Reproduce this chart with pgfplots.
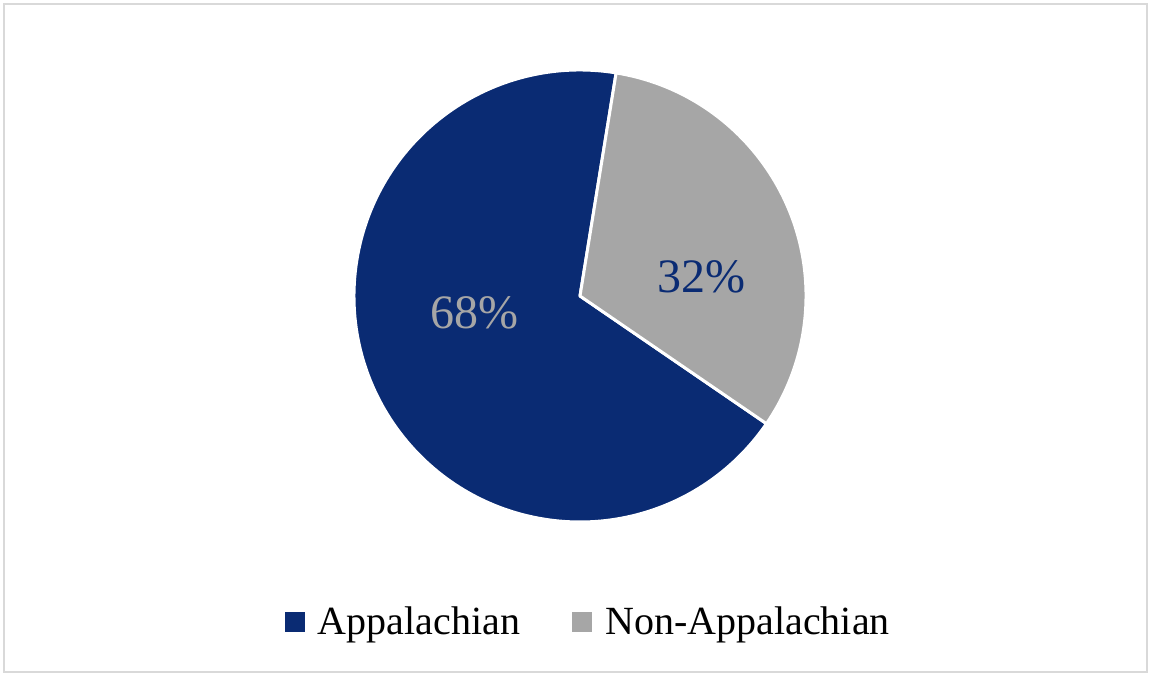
\documentclass[border=0pt]{standalone}
\usepackage{pgfplots}
\pgfplotsset{compat=1.18}
\usepackage{pgfplotstable}
\usepackage{fontspec}
\setmainfont{Liberation Serif}

\definecolor{navy}{HTML}{0A2B73}
\definecolor{slicegray}{HTML}{A6A6A6}
\definecolor{framegray}{HTML}{D9D9D9}

% share of respondents
\pgfplotstableread{
label value
Appalachian 68
Non-Appalachian 32
}\piedata

\begin{document}
\begin{tikzpicture}
\pgfplotstablegetelem{0}{value}\of\piedata \let\va\pgfplotsretval
\pgfplotstablegetelem{1}{value}\of\piedata \let\vb\pgfplotsretval
\def\rad{226}
\pgfmathsetmacro{\startang}{80.8}
\pgfmathsetmacro{\endA}{\startang+3.6*\va}
\pgfmathsetmacro{\endB}{\startang-3.6*\vb}
\pgfmathsetmacro{\sx}{580+\rad*cos(\startang)}
\pgfmathsetmacro{\sy}{-296+\rad*sin(\startang)}
\begin{axis}[
    width=1151pt, height=675pt, scale only axis,
    xmin=0, xmax=1151, ymin=-675, ymax=0,
    hide axis, clip=false,
    legend columns=2,
    legend style={at={(0.511,0.079)}, anchor=center, draw=none, fill=none,
        font=\fontsize{40}{46}\selectfont,
        /tikz/every even column/.append style={column sep=50pt},
        /tikz/every odd column/.append style={column sep=12pt}},
    legend image code/.code={\fill[#1] (0pt,-9.5pt) rectangle (19pt,9.5pt);},
]
\path (axis cs:0,0) rectangle (axis cs:1151,-675);
\draw[framegray, line width=2pt] (axis cs:4,-4) rectangle (axis cs:1147,-672);

% slices
\filldraw[fill=navy, draw=white, line width=3pt, line join=round]
    (axis cs:580,-296) -- (axis cs:\sx,\sy) arc[start angle=\startang, end angle=\endA, radius=\rad] -- cycle;
\filldraw[fill=slicegray, draw=white, line width=3pt, line join=round]
    (axis cs:580,-296) -- (axis cs:\sx,\sy) arc[start angle=\startang, end angle=\endB, radius=\rad] -- cycle;

\node[text=slicegray, font=\fontsize{48}{52}\selectfont] at (axis cs:474,-313) {\va\%};
\node[text=navy, font=\fontsize{48}{52}\selectfont] at (axis cs:701,-277) {\vb\%};

\addlegendimage{navy}
\addlegendentry{Appalachian}
\addlegendimage{slicegray}
\addlegendentry{Non-Appalachian}
\end{axis}
\end{tikzpicture}
\end{document}
